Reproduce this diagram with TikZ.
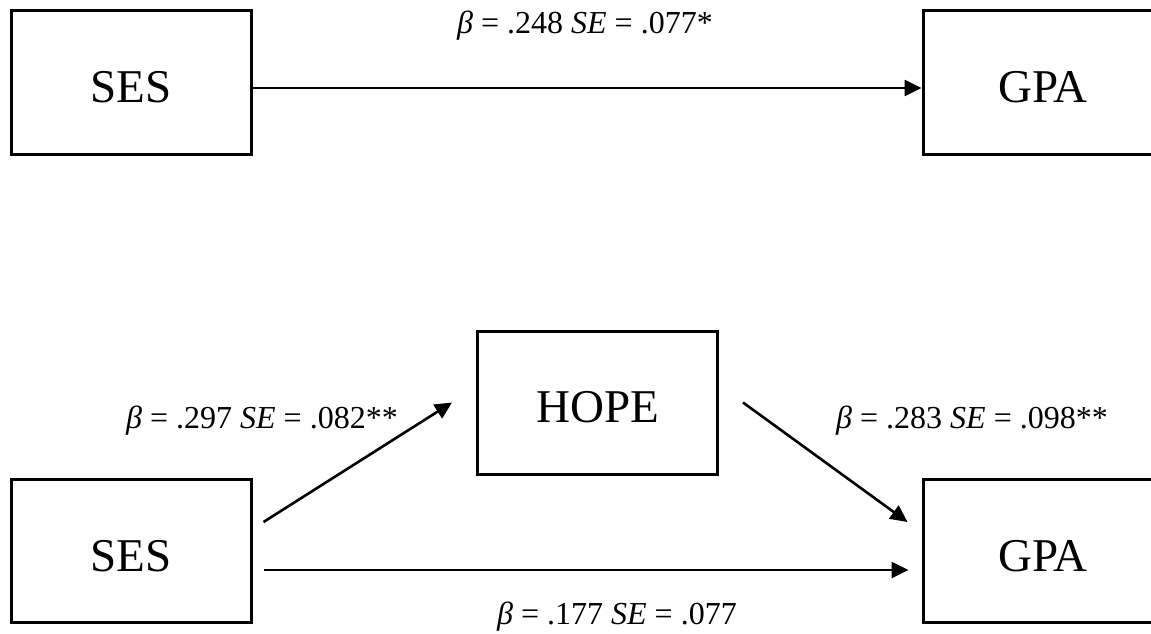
\documentclass[tikz,border=0pt]{standalone}
\usepackage{fontspec}
\setmainfont{Liberation Serif}
\usetikzlibrary{arrows.meta,calc}
\tikzset{
  varbox/.style={draw=black, line width=3pt, minimum width=240pt, minimum height=143pt, inner sep=0pt, font=\fontsize{47}{50}\selectfont, text height=40pt, text depth=0pt, fill=white},
  path/.style={line width=2.6pt, -{Triangle[length=17pt,width=16pt]}},
  coef/.style={font=\fontsize{32}{35}\selectfont, inner sep=0pt, anchor=center}
}
\newcommand{\bet}{\textit{β}}
\begin{document}
\begin{tikzpicture}[x=1pt,y=-1pt]
\clip (0,0) rectangle (1151,634);
\fill[white] (0,0) rectangle (1151,634);
% top model
\node[varbox] (ses1) at (131,82.5) {SES};
\node[varbox] (gpa1) at (1043,82.5) {GPA};
\draw[path] ($(ses1.east)+(0,5.5)$) -- ($(gpa1.west)+(0,5.5)$);
\node[coef] (c1) at (585,26) {\bet{} = .248 \textit{SE} = .077*};
% bottom model
\node[varbox] (ses2) at (131,551) {SES};
\node[varbox] (hope) at (597.5,402.5) {HOPE};
\node[varbox] (gpa2) at (1043,551) {GPA};
\draw[path] ($(ses2.east)+(11,-29)$) -- ($(hope.west)+(-24,0)$);
\draw[path] ($(hope.east)+(24,0)$) -- ($(gpa2.west)+(-14,-29)$);
\draw[path] ($(ses2.east)+(11,19)$) -- ($(gpa2.west)+(-13,19)$);
\node[coef] (c2) at (262,421) {\bet{} = .297 \textit{SE} = .082**};
\node[coef] (c3) at (972,421) {\bet{} = .283 \textit{SE} = .098**};
\node[coef] (c4) at (617,617) {\bet{} = .177 \textit{SE} = .077};
\end{tikzpicture}
\end{document}
